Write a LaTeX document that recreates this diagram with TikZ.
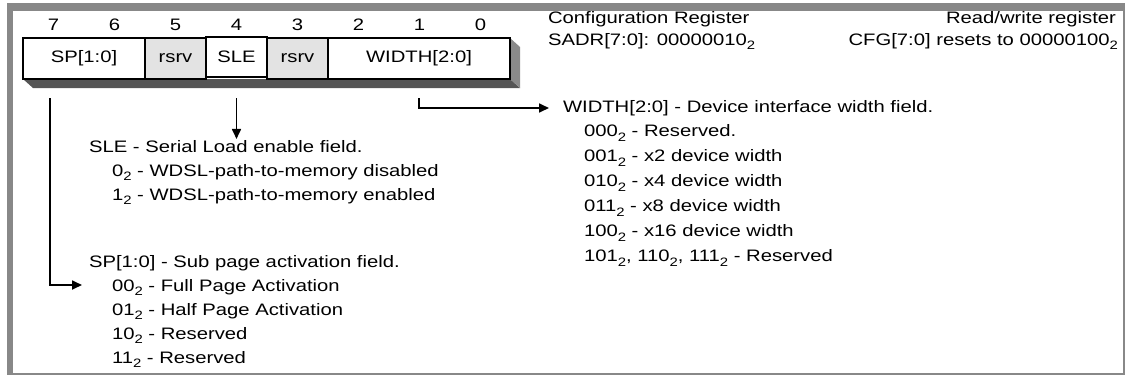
\documentclass[tikz,border=0pt]{standalone}
\usepackage{fontspec}
\setmainfont{Liberation Sans}[FakeStretch=1.22]
\usepackage{xcolor}
\usetikzlibrary{arrows.meta,positioning,calc}
\definecolor{regFrame}{HTML}{888888}
\definecolor{regShadeDark}{HTML}{555555}
\definecolor{regShadeMid}{HTML}{8A8A8A}
\definecolor{regRsrv}{HTML}{E3E3E3}
\newcommand{\bnum}[1]{#1\raisebox{-4.8pt}{\fontsize{12.2}{12}\selectfont 2}}

\begin{document}
\begin{tikzpicture}[
x=1pt, y=-1pt,
every node/.style={font=\fontsize{16.6}{20}\selectfont, inner sep=0pt, outer sep=0pt},
cell/.style={draw, line width=2pt, minimum height=41pt, inner sep=0pt},
rsrv/.style={cell, fill=regRsrv},
bitno/.style={anchor=base},
txt/.style={anchor=base west},
arr/.style={-{Triangle[length=10pt,width=9pt]}, line width=1.7pt}
]
\useasboundingbox (0,0) rectangle (1125,375);
% Frame
\fill[regFrame] (7,3) rectangle (1125,375);
\fill[white] (13,11) rectangle (1123,373);

% Register shadow
\fill[regShadeDark] (23,79) -- (510,79) -- (520,88) -- (33,88) -- cycle;
\fill[regShadeMid] (510,38) -- (520,47) -- (520,88) -- (510,79) -- cycle;

% Register cells
\node[cell, minimum width=122pt] (sp) at (84,58.5) {SP[1:0]};
\node[rsrv, minimum width=61pt] (rs5) at (175.5,58.5) {rsrv};
\node[cell, minimum width=61pt, minimum height=40pt] (sle) at (236.5,57) {SLE};
\node[rsrv, minimum width=61pt] (rs3) at (297.5,58.5) {rsrv};
\node[cell, minimum width=182pt] (wd) at (419,58.5) {WIDTH[2:0]};

% Bit numbers
\foreach \b in {0,...,7}
  \node[bitno] (bit\b) at ({480.5-61*\b},30.5) {\b};

% Header
\node[txt] (title) at (548,23.5) {Configuration Register};
\node[txt] (sadr) at (548,45) {SADR[7:0]: \bnum{00000010}};
\node[anchor=base east] (rw) at (1116,23.5) {Read/write register};
\node[anchor=base east] (cfg) at (1118,45) {CFG[7:0] resets to \bnum{00000100}};

% SLE field
\node[txt] (sleh) at (89,152) {SLE - Serial Load enable field.};
\node[txt] (sle0) at (112,176) {\bnum{0} - WDSL-path-to-memory disabled};
\node[txt] (sle1) at (112,200) {\bnum{1} - WDSL-path-to-memory enabled};

% SP field
\node[txt] (sph) at (89,267) {SP[1:0] - Sub page activation field.};
\node[txt] (sp00) at (112,291) {\bnum{00} - Full Page Activation};
\node[txt] (sp01) at (112,315) {\bnum{01} - Half Page Activation};
\node[txt] (sp10) at (112,339) {\bnum{10} - Reserved};
\node[txt] (sp11) at (112,363) {\bnum{11} - Reserved};

% WIDTH field
\node[txt] (wdh) at (563,112) {WIDTH[2:0] - Device interface width field.};
\node[txt] (wd000) at (584,136.9) {\bnum{000} - Reserved.};
\node[txt] (wd001) at (584,161.8) {\bnum{001} - x2 device width};
\node[txt] (wd010) at (584,186.7) {\bnum{010} - x4 device width};
\node[txt] (wd011) at (584,211.6) {\bnum{011} - x8 device width};
\node[txt] (wd100) at (584,236.5) {\bnum{100} - x16 device width};
\node[txt] (wdres) at (584,261.4) {\bnum{101}, \bnum{110}, \bnum{111} - Reserved};

% Arrows
\draw[arr] ([xshift=-34pt,yshift=-19pt]sp.south) |- ([xshift=-30pt,yshift=6pt]sp00.base west);
\draw[arr, shorten >=1pt] ([yshift=-21pt]sle.south) -- (sle.south |- sleh.north);
\draw[arr] ([yshift=-19pt]wd.south) |- ([xshift=-14pt,yshift=4pt]wdh.base west);
\end{tikzpicture}
\end{document}
